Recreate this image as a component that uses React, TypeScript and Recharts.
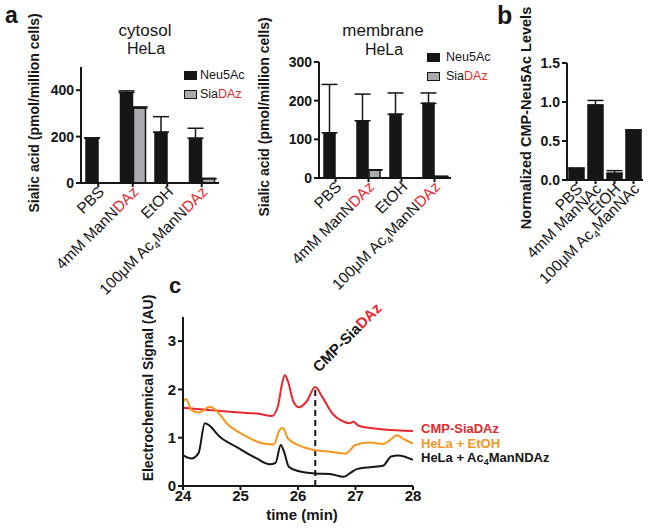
import React from 'react';
import { BarChart, Bar, XAxis, YAxis, ErrorBar, LineChart, Line, ReferenceLine } from 'recharts';

const FONT = '"Liberation Sans", Arial, Helvetica, sans-serif';
const INK = '#161616';
const RED = '#e8282e';
const ORANGE = '#f7951e';
const GREY = '#a9abae';

// panel a
const treatmentsA = ['PBS', '4mM ManNDAz', 'EtOH', '100μM Ac4ManNDAz'];
const cytoNeu5Ac = [194, 390, 219, 193];
const cytoNeu5AcErr = [0, 7, 67, 43];
const cytoSiaDAz = [0, 323, 0, 19];
const cytoSiaDAzErr = [0, 5, 0, 0];
const cytoTicks = [0, 200, 400];

const membNeu5Ac = [117, 148, 165, 193];
const membNeu5AcErr = [125, 69, 55, 27];
const membSiaDAz = [0, 21, 0, 4];
const membSiaDAzErr = [0, 0, 0, 0];
const membTicks = [0, 100, 200, 300];

// panel b
const treatmentsB = ['PBS', '4mM ManNAc', 'EtOH', '100μM Ac4ManNAc'];
const cmpNeu5Ac = [0.15, 0.96, 0.085, 0.64];
const cmpNeu5AcErr = [0, 0.06, 0.035, 0];
const bTicks = [0, 0.5, 1.0, 1.5];

// panel c
const cmpSiaTime = [24.0, 24.5, 25.0, 25.3, 25.55, 25.65, 25.72, 25.77, 25.83, 25.92, 26.02, 26.15, 26.3, 26.42, 26.6, 26.8, 26.9, 26.96, 27.05, 27.2, 27.5, 28.0];
const cmpSiaSignal = [1.62, 1.57, 1.52, 1.5, 1.45, 1.65, 2.1, 2.3, 2.15, 1.75, 1.63, 1.75, 2.05, 1.85, 1.5, 1.33, 1.3, 1.33, 1.25, 1.21, 1.17, 1.14];
const etohTime = [24.0, 24.05, 24.15, 24.27, 24.47, 24.6, 24.76, 25.05, 25.4, 25.58, 25.68, 25.74, 25.82, 26.0, 26.3, 26.56, 26.83, 27.0, 27.25, 27.48, 27.6, 27.72, 27.84, 28.0];
const etohSignal = [1.74, 1.8, 1.57, 1.52, 1.64, 1.54, 1.3, 1.06, 0.88, 0.86, 1.16, 1.2, 0.99, 0.85, 0.74, 0.71, 0.67, 0.85, 0.9, 0.87, 0.95, 1.05, 0.97, 0.88];
const ac4Time = [24.0, 24.15, 24.27, 24.38, 24.45, 24.64, 24.93, 25.28, 25.51, 25.61, 25.7, 25.76, 25.84, 26.0, 26.3, 26.56, 26.79, 26.9, 27.02, 27.25, 27.48, 27.62, 27.74, 28.0];
const ac4Signal = [0.64, 0.57, 0.68, 1.3, 1.26, 1.02, 0.81, 0.57, 0.45, 0.48, 0.85, 0.7, 0.4, 0.31, 0.26, 0.25, 0.19, 0.26, 0.35, 0.39, 0.42, 0.61, 0.63, 0.54];
const timeTicks = [24, 25, 26, 27, 28];
const signalTicks = [0, 1, 2, 3];
const peakTime = 26.3;
const peakSignal = 2.05;

const barRows = (names: string[], a: number[], aErr: number[], b?: number[], bErr?: number[]) =>
  names.map((name, i) => ({
    name,
    neu: a[i],
    neuErr: [0, aErr[i]],
    sia: b ? b[i] : 0,
    siaErr: bErr ? [0, bErr[i]] : [0, 0],
  }));

const cytoData = barRows(treatmentsA, cytoNeu5Ac, cytoNeu5AcErr, cytoSiaDAz, cytoSiaDAzErr);
const membData = barRows(treatmentsA, membNeu5Ac, membNeu5AcErr, membSiaDAz, membSiaDAzErr);
const bData = barRows(treatmentsB, cmpNeu5Ac, cmpNeu5AcErr);

const zip = (t: number[], v: number[]) => t.map((x, i) => ({ t: x, v: v[i] }));

// svg label with subscript 4 and red DAz
const svgParts = (s: string) => {
  const out: React.ReactNode[] = [];
  let rest = s;
  let red = '';
  if (rest.endsWith('DAz')) {
    red = 'DAz';
    rest = rest.slice(0, -3);
  }
  const i = rest.indexOf('Ac4');
  if (i >= 0) {
    out.push(<tspan key="a">{rest.slice(0, i + 2)}</tspan>);
    out.push(<tspan key="s" fontSize={10} dy={4}>4</tspan>);
    out.push(<tspan key="b" dy={-4}>{rest.slice(i + 3)}</tspan>);
  } else {
    out.push(<tspan key="a">{rest}</tspan>);
  }
  if (red) out.push(<tspan key="r" fill={RED}>{red}</tspan>);
  return out;
};

const SlantTick = (props: any) => {
  const { x, y, payload } = props;
  return (
    <g transform={`translate(${x + 3},${y})`}>
      <text textAnchor="end" transform="rotate(-45)" fontSize={15.5} fontFamily={FONT} fill={INK} dy="0.35em">
        {svgParts(payload.value)}
      </text>
    </g>
  );
};

const axisProps = { stroke: INK, strokeWidth: 2 };
const yTick = { fontSize: 14, fontWeight: 700, fill: INK, fontFamily: FONT };

const Txt = ({ x, y, size, bold, color, center, children }: any) => (
  <div
    style={{
      position: 'absolute',
      left: x,
      top: y - size * 0.9,
      fontSize: size,
      lineHeight: `${size}px`,
      fontWeight: bold ? 700 : 400,
      color: color || INK,
      whiteSpace: 'nowrap',
      transform: center ? 'translateX(-50%)' : undefined,
    }}
  >
    {children}
  </div>
);

const VLabel = ({ x, y, size, children }: any) => (
  <div
    style={{
      position: 'absolute',
      left: x,
      top: y,
      fontSize: size,
      lineHeight: `${size}px`,
      fontWeight: 700,
      color: INK,
      whiteSpace: 'nowrap',
      transform: 'translate(-50%,-50%) rotate(-90deg)',
    }}
  >
    {children}
  </div>
);

const Swatch = ({ x, y, fill }: any) => (
  <div style={{ position: 'absolute', left: x, top: y, width: 11, height: 7, background: fill, border: `1.5px solid ${INK}` }} />
);

const SiaDAz = () => (
  <span>
    Sia<span style={{ color: RED }}>DAz</span>
  </span>
);

const SialicBars = ({ data, ticks, max, width, height, margin }: any) => (
  <BarChart width={width} height={height} data={data} margin={margin} barCategoryGap={5} barGap={1}>
    <XAxis dataKey="name" tick={<SlantTick />} tickSize={4} axisLine={axisProps} tickLine={axisProps} interval={0} height={100} />
    <YAxis domain={[0, max]} ticks={ticks} width={50} tick={yTick} tickSize={5} axisLine={axisProps} tickLine={axisProps} />
    <Bar dataKey="neu" fill={INK} stroke={INK} strokeWidth={1.5} isAnimationActive={false}>
      <ErrorBar dataKey="neuErr" width={8} stroke={INK} strokeWidth={1.5} isAnimationActive={false} />
    </Bar>
    <Bar dataKey="sia" fill={GREY} stroke={INK} strokeWidth={1.5} isAnimationActive={false}>
      <ErrorBar dataKey="siaErr" width={8} stroke={INK} strokeWidth={1.5} isAnimationActive={false} />
    </Bar>
  </BarChart>
);

export default function App() {
  return (
    <div style={{ position: 'absolute', left: 0, top: 0, width: 649, height: 529, background: '#fff', fontFamily: FONT, overflow: 'hidden' }}>
      {/* a: cytosol */}
      <div style={{ position: 'absolute', left: 0, top: 0 }}>
        <SialicBars data={cytoData} ticks={cytoTicks} max={500} width={230} height={305} margin={{ top: 67, right: 11, bottom: 22, left: 31 }} />
      </div>
      {/* a: membrane */}
      <div style={{ position: 'absolute', left: 240, top: 0 }}>
        <SialicBars data={membData} ticks={membTicks} max={300} width={220} height={305} margin={{ top: 62, right: 9, bottom: 27, left: 29 }} />
      </div>
      {/* b */}
      <div style={{ position: 'absolute', left: 520, top: 0 }}>
        <BarChart width={129} height={300} data={bData} margin={{ top: 63, right: 6, bottom: 20, left: 7 }} barCategoryGap={2}>
          <XAxis dataKey="name" tick={<SlantTick />} tickSize={4} axisLine={axisProps} tickLine={axisProps} interval={0} height={100} />
          <YAxis domain={[0, 1.5]} ticks={bTicks} width={40} tick={yTick} tickSize={5} axisLine={axisProps} tickLine={axisProps} tickFormatter={(v: number) => v.toFixed(1)} />
          <Bar dataKey="neu" fill={INK} stroke={INK} strokeWidth={1.5} isAnimationActive={false}>
            <ErrorBar dataKey="neuErr" width={8} stroke={INK} strokeWidth={1.5} isAnimationActive={false} />
          </Bar>
        </BarChart>
      </div>
      {/* c */}
      <div style={{ position: 'absolute', left: 130, top: 290 }}>
        <LineChart width={300} height={239} margin={{ top: 27, right: 17, bottom: 13, left: 18 }}>
          <XAxis dataKey="t" type="number" domain={[24, 28]} ticks={timeTicks} height={30} tick={{ ...yTick, fontSize: 15 }} tickSize={4} tickMargin={0} axisLine={axisProps} tickLine={axisProps} allowDataOverflow />
          <YAxis type="number" domain={[0, 3.5]} ticks={signalTicks} width={35} tick={{ ...yTick, fontSize: 15 }} tickSize={5} axisLine={axisProps} tickLine={axisProps} />
          <ReferenceLine segment={[{ x: peakTime, y: 0 }, { x: peakTime, y: peakSignal }]} stroke={INK} strokeWidth={2} strokeDasharray="6 4" />
          <Line data={zip(cmpSiaTime, cmpSiaSignal)} dataKey="v" type="monotone" stroke={RED} strokeWidth={2} dot={false} isAnimationActive={false} />
          <Line data={zip(etohTime, etohSignal)} dataKey="v" type="monotone" stroke={ORANGE} strokeWidth={2} dot={false} isAnimationActive={false} />
          <Line data={zip(ac4Time, ac4Signal)} dataKey="v" type="monotone" stroke={INK} strokeWidth={2} dot={false} isAnimationActive={false} />
        </LineChart>
      </div>

      {/* panel letters */}
      <Txt x={5} y={25} size={23} bold>a</Txt>
      <Txt x={497} y={25} size={25} bold>b</Txt>
      <Txt x={169} y={295} size={22} bold>c</Txt>

      {/* titles */}
      <Txt x={145} y={37} size={17} center>cytosol</Txt>
      <Txt x={146} y={55} size={16} center>HeLa</Txt>
      <Txt x={383} y={37} size={17} center>membrane</Txt>
      <Txt x={384} y={56} size={16} center>HeLa</Txt>

      {/* legends a */}
      <Swatch x={184} y={71} fill={INK} />
      <Txt x={200} y={80} size={12.5}>Neu5Ac</Txt>
      <Swatch x={184} y={90} fill={GREY} />
      <Txt x={200} y={99} size={12.5}><SiaDAz /></Txt>
      <Swatch x={427} y={53} fill={INK} />
      <Txt x={446} y={62} size={12.5}>Neu5Ac</Txt>
      <Swatch x={427} y={72} fill={GREY} />
      <Txt x={446} y={81} size={12.5}><SiaDAz /></Txt>

      {/* axis titles */}
      <VLabel x={34} y={113} size={14}>Sialic acid (pmol/million cells)</VLabel>
      <VLabel x={264} y={117} size={14}>Sialic acid (pmol/million cells)</VLabel>
      <VLabel x={526} y={118} size={14.5}>Normalized CMP-Neu5Ac Levels</VLabel>
      <VLabel x={148} y={388} size={14}>Electrochemical Signal (AU)</VLabel>
      <Txt x={302} y={520} size={15} bold center>time (min)</Txt>

      {/* c annotations */}
      <div style={{ position: 'absolute', left: 321, top: 358, fontSize: 15, lineHeight: '17px', fontWeight: 700, color: INK, whiteSpace: 'nowrap', transform: 'rotate(-45deg)', transformOrigin: '0 100%' }}>
        CMP-Sia<span style={{ color: RED }}>DAz</span>
      </div>
      <Txt x={421} y={434} size={13} bold color={RED}>CMP-SiaDAz</Txt>
      <Txt x={421} y={448.5} size={13} bold color={ORANGE}>HeLa + EtOH</Txt>
      <Txt x={421} y={463} size={13} bold>HeLa + Ac<sub style={{ fontSize: 9, verticalAlign: '-3px', lineHeight: 0 }}>4</sub>ManNDAz</Txt>
    </div>
  );
}
